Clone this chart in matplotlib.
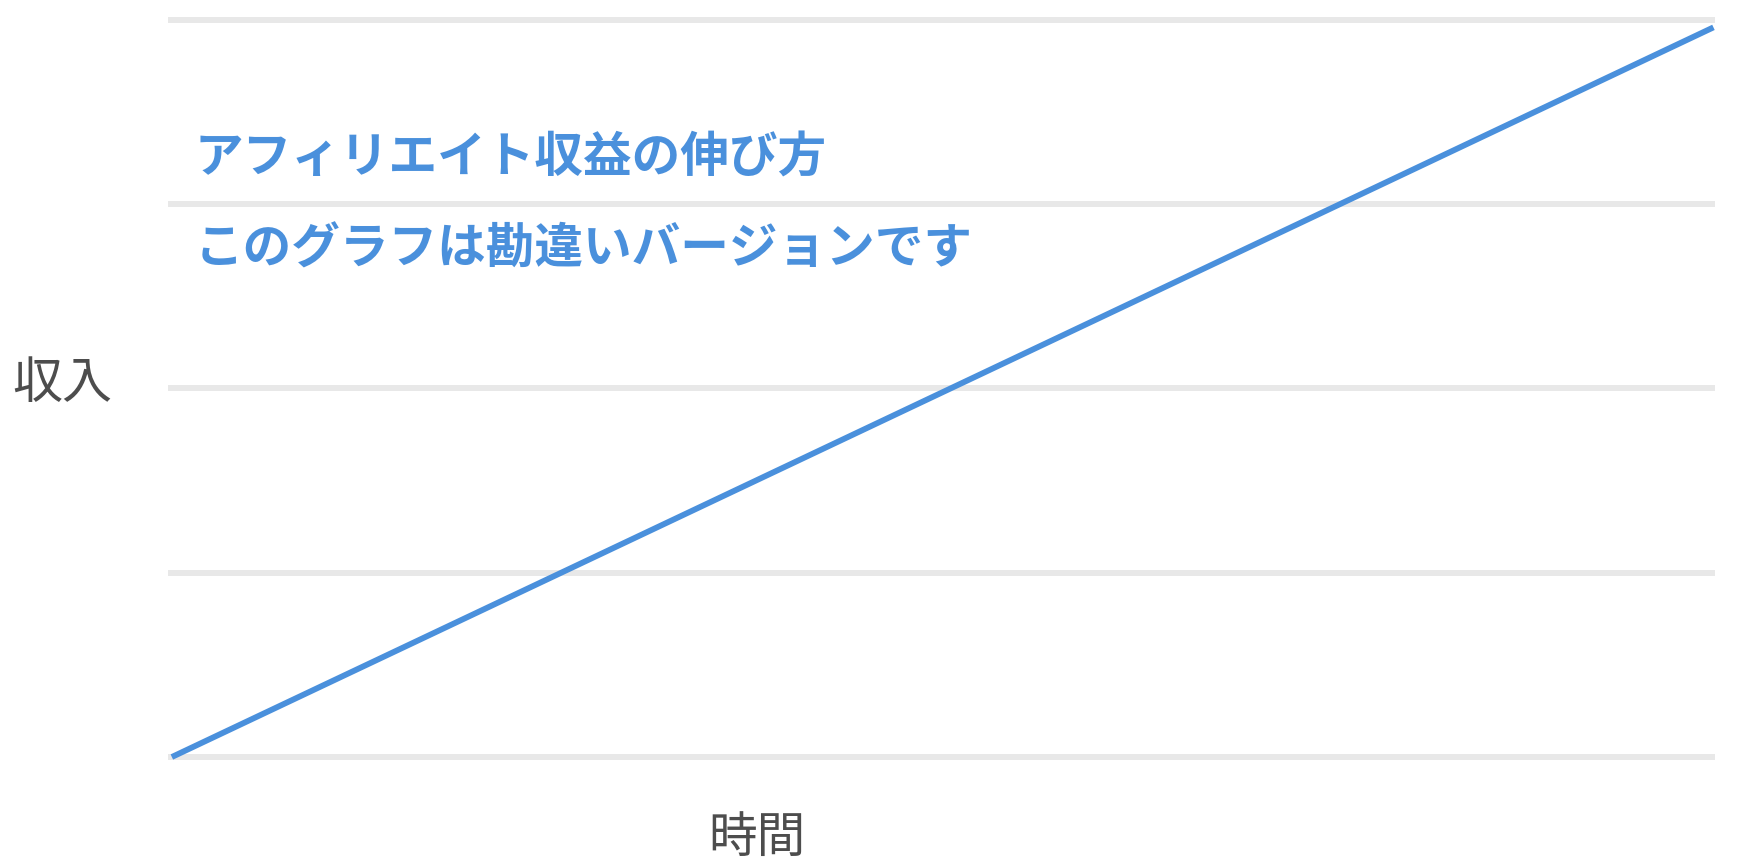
import matplotlib
matplotlib.use("Agg")
import matplotlib.pyplot as plt

plt.rcParams['font.family'] = ['Noto Sans CJK JP', 'DejaVu Sans']

# data
time = [0, 10]
income = [0, 99]
grid_levels = [0, 25, 50, 75, 100]
title_lines = ["アフィリエイト収益の伸び方", "このグラフは勘違いバージョンです"]
xlabel = "時間"
ylabel = "収入"

BLUE = '#4a90dc'
GREY = '#e8e8e8'
LABEL = '#4d4d4d'

W, H = 1750, 866
fig = plt.figure(figsize=(W / 100, H / 100), dpi=100)
# pixel positions of the plot area
left, right = 168, 1715
top_px, bottom_px = 20, 757
unit = (bottom_px - top_px) / 100.0
pad = 2
ax = fig.add_axes([left / W, (H - bottom_px - pad * unit) / H,
                   (right - left) / W, (bottom_px - top_px + 2 * pad * unit) / H])
ax.set_ylim(-pad, 100 + pad)
ax.set_xlim(-0.025, 10.01)

for g in grid_levels:
    ax.axhline(g, color=GREY, linewidth=4.3, zorder=1)

ax.plot(time, income, color=BLUE, linewidth=4.2, solid_capstyle='butt', zorder=3)

for s in ax.spines.values():
    s.set_visible(False)
ax.set_xticks([])
ax.set_yticks([])

fig.text(195 / W, 1 - 158 / H, title_lines[0], color=BLUE, fontsize=35,
         fontweight='bold', va='center', ha='left')
fig.text(195 / W, 1 - 249 / H, title_lines[1], color=BLUE, fontsize=35,
         fontweight='bold', va='center', ha='left')

fig.text(62 / W, 1 - 384 / H, ylabel, color=LABEL, fontsize=36,
         va='center', ha='center')
fig.text(757 / W, 1 - 838 / H, xlabel, color=LABEL, fontsize=35,
         va='center', ha='center')

fig.savefig('out.png', dpi=100, facecolor='white')
